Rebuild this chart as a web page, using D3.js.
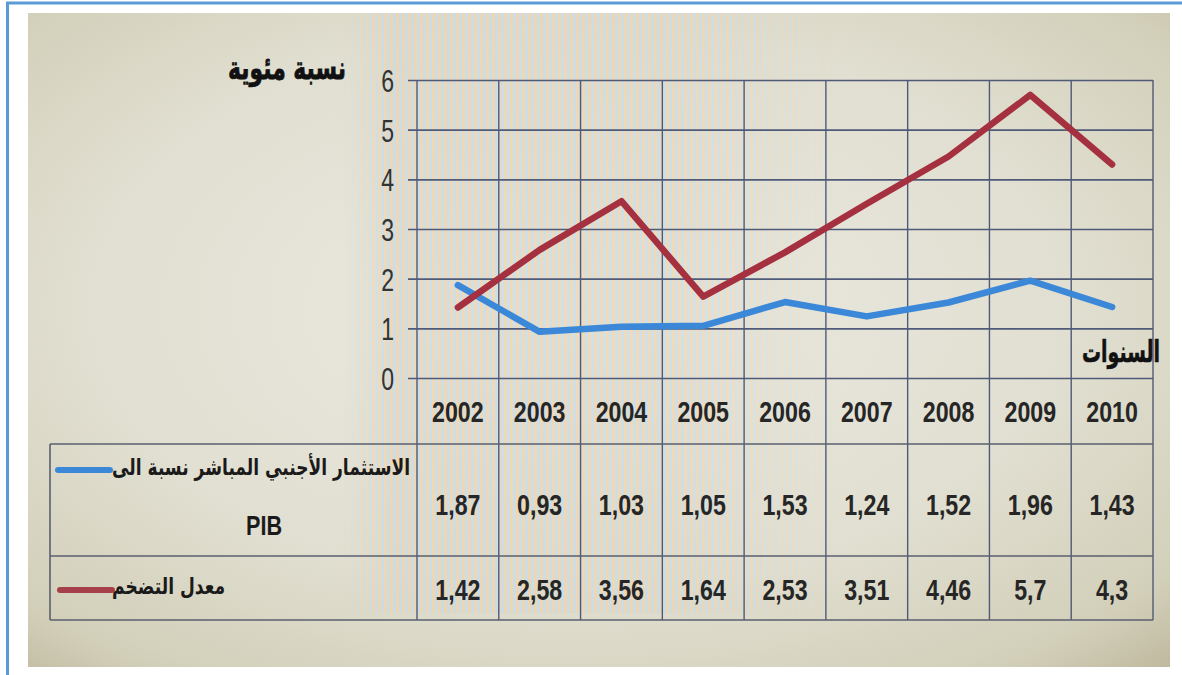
<!DOCTYPE html>
<html><head><meta charset="utf-8">
<script src="https://cdn.jsdelivr.net/npm/d3@7/dist/d3.min.js"></script>
<style>
html,body{margin:0;padding:0;background:#fff;}
svg{display:block;}
</style></head>
<body>
<svg id="c" width="1182" height="675"></svg>
<script>
const years = ["2002","2003","2004","2005","2006","2007","2008","2009","2010"];
const fdiValues = [1.87,0.93,1.03,1.05,1.53,1.24,1.52,1.96,1.43];
const inflationValues = [1.42,2.58,3.56,1.64,2.53,3.51,4.46,5.7,4.3];
const fdiLabels = ["1,87","0,93","1,03","1,05","1,53","1,24","1,52","1,96","1,43"];
const inflationLabels = ["1,42","2,58","3,56","1,64","2,53","3,51","4,46","5,7","4,3"];
const yTicks = [0,1,2,3,4,5,6];
const yTitle = "نسبة مئوية";
const xTitle = "السنوات";
const fdiName = "الاستثمار الأجنبي المباشر نسبة الى";
const fdiName2 = "PIB";
const inflName = "معدل التضخم";

const svg = d3.select("#c");
const defs = svg.append("defs");

// photo background
const rg = defs.append("radialGradient").attr("id","bg").attr("cx","0.48").attr("cy","0.45").attr("r","0.78");
rg.append("stop").attr("offset","0").attr("stop-color","#ecebe3");
rg.append("stop").attr("offset","0.55").attr("stop-color","#e1dfd1");
rg.append("stop").attr("offset","0.85").attr("stop-color","#d2cfb9");
rg.append("stop").attr("offset","1").attr("stop-color","#bbb398");

const pat = defs.append("pattern").attr("id","stripes").attr("patternUnits","userSpaceOnUse").attr("width",6).attr("height",10);
pat.append("rect").attr("width",3).attr("height",10).attr("fill","#f5d3a4");
pat.append("rect").attr("x",3).attr("width",3).attr("height",10).attr("fill","#c2dcef");
const lg = defs.append("linearGradient").attr("id","fade").attr("x1","0").attr("x2","1").attr("y1","0").attr("y2","0");
lg.append("stop").attr("offset","0").attr("stop-color","#fff").attr("stop-opacity",0);
lg.append("stop").attr("offset","0.1").attr("stop-color","#fff").attr("stop-opacity",1);
lg.append("stop").attr("offset","0.65").attr("stop-color","#fff").attr("stop-opacity",0.9);
lg.append("stop").attr("offset","1").attr("stop-color","#fff").attr("stop-opacity",0);
const mask = defs.append("mask").attr("id","m");
mask.append("rect").attr("x",340).attr("y",13).attr("width",500).attr("height",600).attr("fill","url(#fade)");

svg.append("rect").attr("x",28).attr("y",13).attr("width",1142).attr("height",654).attr("fill","url(#bg)");
svg.append("rect").attr("x",340).attr("y",13).attr("width",500).attr("height",600)
  .attr("fill","url(#stripes)").attr("opacity",0.75).attr("mask","url(#m)");

// blue frame
svg.append("line").attr("x1",6).attr("x2",1182).attr("y1",3).attr("y2",3).attr("stroke","#5b9bd5").attr("stroke-width",3);
svg.append("line").attr("x1",7.5).attr("x2",7.5).attr("y1",2).attr("y2",675).attr("stroke","#5b9bd5").attr("stroke-width",3);

// scales
const plotL = 417, plotR = 1153, plotT = 80, plotB = 378;
const x = d3.scaleBand().domain(years).range([plotL, plotR]).padding(0);
const y = d3.scaleLinear().domain([0,6]).range([plotB, plotT]);
const row1 = [444, 556], row2 = [556, 620];
const tableL = 50;
const gridColor = "#4f5a78";
const numFont = "'Liberation Sans',Arial,sans-serif";
const arFont = "'DejaVu Sans',sans-serif";

function squeeze(sel, s){
  sel.each(function(){
    const t = d3.select(this);
    const xx = +t.attr("x") || 0, yy = +t.attr("y") || 0;
    t.attr("transform",`translate(${xx},${yy}) scale(${s},1) translate(${-xx},${-yy})`);
  });
}

// y axis + horizontal gridlines
const yAxis = d3.axisLeft(y).tickValues(yTicks).tickSize(-(plotR - 408)).tickPadding(14).tickFormat(d3.format("d"));
const ga = svg.append("g").attr("transform","translate(408,0)").call(yAxis);
ga.select(".domain").remove();
ga.selectAll(".tick line").attr("stroke",gridColor).attr("stroke-width",1.6);
const tt = ga.selectAll(".tick text").attr("fill","#333").attr("font-family",numFont)
  .attr("font-size",32).attr("dy","0.36em");
squeeze(tt, 0.72);

// vertical gridlines through table
const bounds = years.map(d => x(d)).concat([plotR]);
svg.append("g").selectAll("line").data(bounds).join("line")
  .attr("x1",d=>d).attr("x2",d=>d).attr("y1",plotT).attr("y2",row2[1])
  .attr("stroke",gridColor).attr("stroke-width",1.4);

// table horizontal lines
svg.append("g").selectAll("line").data([row1[0], row2[0], row2[1]]).join("line")
  .attr("x1",tableL).attr("x2",plotR).attr("y1",d=>d).attr("y2",d=>d)
  .attr("stroke","#5a5f6e").attr("stroke-width",1.6);
svg.append("line").attr("x1",tableL).attr("x2",tableL).attr("y1",row1[0]).attr("y2",row2[1])
  .attr("stroke","#5a5f6e").attr("stroke-width",1.6);

// lines
const line = d3.line().x((d,i)=>x(years[i]) + x.bandwidth()/2).y(d=>y(d));
svg.append("path").datum(fdiValues).attr("d",line).attr("fill","none")
  .attr("stroke","#3b87d8").attr("stroke-width",6.5).attr("stroke-linejoin","round").attr("stroke-linecap","round");
svg.append("path").datum(inflationValues).attr("d",line).attr("fill","none")
  .attr("stroke","#a5303f").attr("stroke-width",6.5).attr("stroke-linejoin","round").attr("stroke-linecap","round");

// table text
function cellText(data, yc){
  const s = svg.append("g").selectAll("text").data(data).join("text")
    .attr("x",(d,i)=>x(years[i]) + x.bandwidth()/2).attr("y",yc).attr("dy","0.36em")
    .attr("text-anchor","middle").attr("font-family",numFont).attr("font-weight","bold")
    .attr("font-size",29).attr("fill","#262626").text(d=>d);
  squeeze(s, 0.8);
}
cellText(years, 412);
cellText(fdiLabels, 505);
cellText(inflationLabels, 590);

// fit helper for Arabic text
function fitText(sel, width){
  const w = sel.node().getComputedTextLength();
  squeeze(sel, width / w);
}

const t1 = svg.append("text").attr("x",346).attr("y",68).attr("dy","0.35em").attr("text-anchor","end")
  .attr("font-family",arFont).attr("font-weight","bold").attr("font-size",32)
  .attr("fill","#111").attr("stroke","#111").attr("stroke-width",0.8).text(yTitle);
fitText(t1, 118);
const t2 = svg.append("text").attr("x",1160).attr("y",352).attr("dy","0.35em").attr("text-anchor","end")
  .attr("font-family",arFont).attr("font-weight","bold").attr("font-size",30)
  .attr("fill","#111").attr("stroke","#111").attr("stroke-width",0.6).text(xTitle);
fitText(t2, 78);

// legend rows
svg.append("line").attr("x1",58).attr("x2",110).attr("y1",470).attr("y2",470)
  .attr("stroke","#3b87d8").attr("stroke-width",6).attr("stroke-linecap","round");
const l1 = svg.append("text").attr("x",410).attr("y",467).attr("dy","0.35em").attr("text-anchor","end")
  .attr("font-family",arFont).attr("font-weight","bold").attr("font-size",23).attr("fill","#1a1a1a").text(fdiName);
fitText(l1, 298);
const p = svg.append("text").attr("x",264).attr("y",525).attr("dy","0.36em").attr("text-anchor","middle")
  .attr("font-family",numFont).attr("font-weight","bold").attr("font-size",27).attr("fill","#1a1a1a").text(fdiName2);
squeeze(p, 0.8);
svg.append("line").attr("x1",60).attr("x2",112).attr("y1",590).attr("y2",590)
  .attr("stroke","#a5404a").attr("stroke-width",6).attr("stroke-linecap","round");
const l2 = svg.append("text").attr("x",225).attr("y",586).attr("dy","0.35em").attr("text-anchor","end")
  .attr("font-family",arFont).attr("font-weight","bold").attr("font-size",23).attr("fill","#1a1a1a").text(inflName);
fitText(l2, 113);
</script>
</body></html>
